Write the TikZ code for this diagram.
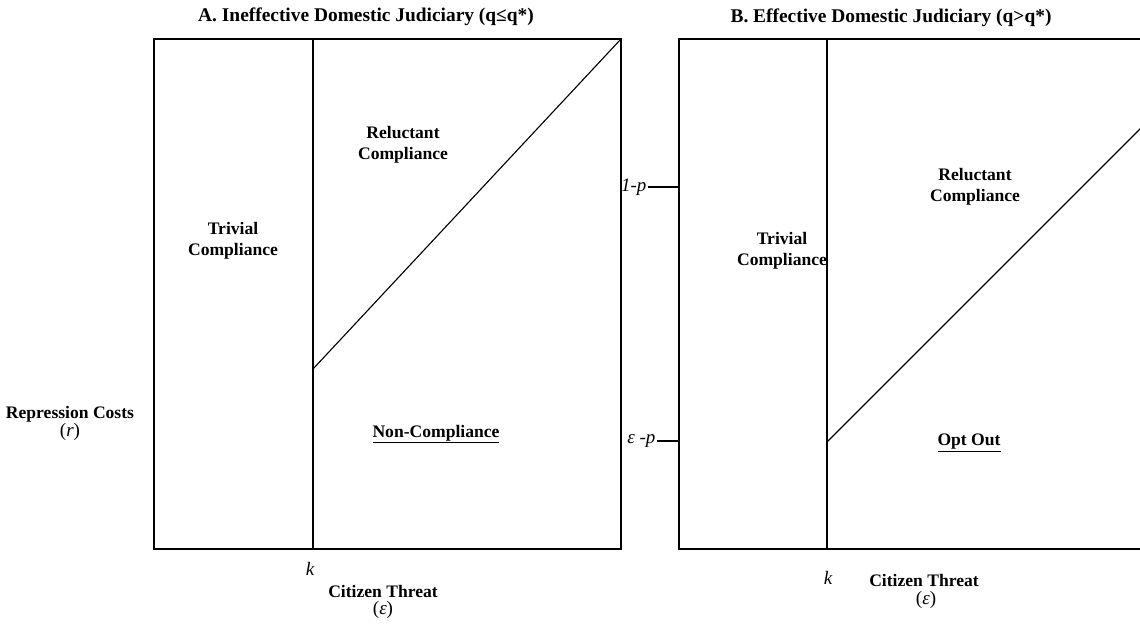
\documentclass[tikz,border=0pt]{standalone}
\usepackage{fontspec}
\setmainfont{Liberation Serif}
\tikzset{
  lbl/.style={font=\fontsize{12.5}{15}\selectfont\bfseries, align=center, inner sep=1pt},
  ttl/.style={font=\fontsize{13.8}{16}\selectfont\bfseries, inner sep=1pt},
  var/.style={font=\fontsize{13.5}{16}\selectfont\itshape, inner sep=1pt},
  edge/.style={line width=0.8pt}
}
\begin{document}
\begin{tikzpicture}
    \clip (0,0) rectangle (28.5,15.675);
    % panel A
    \coordinate (aSW) at (3.85,1.95);
    \coordinate (aNE) at (15.525,14.7);
    \coordinate (aKb) at (7.825,1.95);
    \coordinate (aKt) at (7.825,14.7);
    \coordinate (aCut) at (7.825,6.45);
    \draw[edge] (aSW) rectangle (aNE);
    \draw[edge] (aKb) -- (aKt);
    \draw[edge] (aCut) -- (aNE);
    \node[ttl] (titleA) at (9.15,15.26) {A. Ineffective Domestic Judiciary (q≤q*)};
    \node[lbl] (rep) at (1.75,5.33) {Repression Costs};
    \node[var] (repr) at (1.75,4.88) {\upshape(\itshape r\upshape)};
    \node[lbl] (trivA) at (5.825,9.65) {Trivial\\Compliance};
    \node[lbl] (relA) at (10.075,12.05) {Reluctant\\Compliance};
    \node[lbl] (nonA) at (10.9,4.82) {\underline{Non-Compliance}};
    \node[var] (kA) at (7.75,1.45) {k};
    \node[lbl] (thrA) at (9.575,0.9) {Citizen Threat};
    \node[var] (epsA) at (9.575,0.42) {\upshape(\itshape ε\upshape)};
    % panel B
    \coordinate (bSW) at (16.975,1.95);
    \coordinate (bNE) at (31.5,14.7);
    \coordinate (bKb) at (20.675,1.95);
    \coordinate (bKt) at (20.675,14.7);
    \coordinate (bCut) at (20.675,4.625);
    \coordinate (bEnd) at (30.75,14.7);
    \draw[edge] (bSW) rectangle (bNE);
    \draw[edge] (bKb) -- (bKt);
    \draw[edge] (bCut) -- (bEnd);
    \coordinate (tickH) at (16.2,11.0);
    \coordinate (tickL) at (16.425,4.65);
    \draw[edge] (tickH) -- (16.975,11.0);
    \draw[edge] (tickL) -- (16.975,4.65);
    \node[var, anchor=east] (oneP) at (tickH) {1-p};
    \node[var, anchor=east] (epsP) at (tickL) {ε -p};
    \node[ttl] (titleB) at (22.275,15.24) {B. Effective Domestic Judiciary (q>q*)};
    \node[lbl] (trivB) at (19.55,9.4) {Trivial\\Compliance};
    \node[lbl] (relB) at (24.375,11.0) {Reluctant\\Compliance};
    \node[lbl] (optB) at (24.225,4.6) {\underline{Opt Out}};
    \node[var] (kB) at (20.7,1.225) {k};
    \node[lbl] (thrB) at (23.1,1.17) {Citizen Threat};
    \node[var] (epsB) at (23.15,0.68) {\upshape(\itshape ε\upshape)};
\end{tikzpicture}
\end{document}
